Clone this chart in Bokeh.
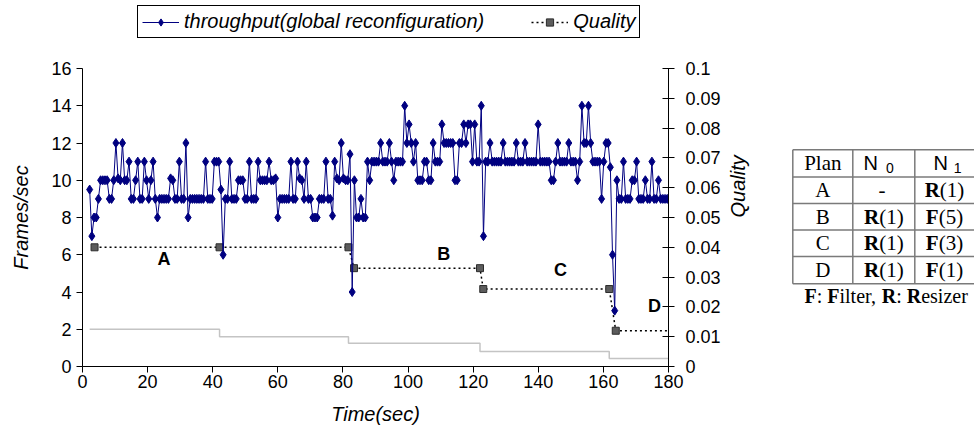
import math
from bokeh.plotting import figure
from bokeh.models import (Range1d, LinearAxis, FixedTicker, NumeralTickFormatter,
                          Legend, LegendItem)
from bokeh.layouts import row, column
from bokeh.embed import file_html
from bokeh.resources import INLINE
from bokeh.core.properties import value

# ---------------- data ----------------
first_sample = 2.2      # s, time of first throughput sample
sample_step = 0.672     # s, sampling interval

throughput = [
    9.5, 7, 8, 8, 9, 10, 10, 10, 10, 9, 9, 10, 12, 10.1, 10, 12, 10, 10, 11, 9,
    9, 10, 11, 9, 9, 11, 10, 9, 10, 11, 9, 8, 9, 9, 9, 9, 9, 10.1, 10, 9,
    9, 11, 9, 9, 12, 8, 9, 9, 9, 9, 9, 9, 9, 11, 9, 9, 9, 11, 11, 11, 9.5,
    6,
    9, 9, 11, 9, 9, 9, 10, 10, 10, 9, 9, 11, 9, 9, 9, 11, 10, 10, 10, 10, 11, 10, 10, 10.1, 8,
    9, 9, 9, 9, 9, 11, 9, 9, 11, 10.1, 10, 9, 11, 9, 9, 8, 8, 8, 9, 9, 9, 11, 9, 9, 8.1,
    11, 10.1, 10, 12, 10.1, 10, 10, 11.4,
    4,
    10, 8, 8, 9, 8, 8, 11, 10, 11, 11, 11, 11, 12, 11, 11, 11, 12, 11, 10, 11,
    11, 11, 11, 14, 12, 13, 12, 11, 12, 10, 10, 10, 11, 11, 10, 10, 12, 11, 11, 11,
    13, 12, 12, 12, 12, 12, 10, 10, 12, 12, 13, 12, 13, 13, 11, 13, 11, 11, 14,
    7,
    11, 11, 12, 11, 11, 11, 11, 11, 12, 11, 11, 11, 11, 11, 12, 11, 11, 11, 12, 11,
    11, 11, 11, 11, 13, 11, 11, 11, 11, 11, 10, 10, 11, 12, 11, 11, 11, 11, 12, 11,
    11, 11, 10, 11, 14, 12, 12, 14, 12, 11, 11, 11, 11, 9, 11, 12, 12, 10.7,
    6, 3,
    10, 9, 9, 11, 9, 9, 9, 10, 10, 11, 9, 9, 9, 10, 9, 9, 11, 9, 9, 10, 9, 9, 9, 9,
]
time = [round(first_sample + i * sample_step, 3) for i in range(len(throughput))]

quality_time = [3.7, 42.1, 81.7, 83.4, 122.1, 123.1, 161.8, 163.8, 180]
quality = [0.04, 0.04, 0.04, 0.033, 0.033, 0.026, 0.026, 0.012, 0.012]

base_time = [2.2, 42.1, 81.7, 122.1, 161.8, 180]
base_level = [2.0, 1.6, 1.25, 0.8, 0.43, 0.43]

plan_labels = ["A", "B", "C", "D"]
plan_label_x = [25, 111, 146.8, 175.7]
plan_label_y = [5.76, 6.03, 5.19, 3.25]

x_ticks = [0, 20, 40, 60, 80, 100, 120, 140, 160, 180]
y_ticks = [0, 2, 4, 6, 8, 10, 12, 14, 16]
q_ticks = [0, 0.01, 0.02, 0.03, 0.04, 0.05, 0.06, 0.07, 0.08, 0.09, 0.1]

table_plans = ["A", "B", "C", "D"]
table_n0 = ["-", "R(1)", "R(1)", "R(1)"]
table_n1 = ["R(1)", "F(5)", "F(3)", "F(1)"]
caption_parts = [("F", True), (":", False), (" ", False), ("F", True), ("ilter,", False),
                 (" ", False), ("R", True), (":", False), (" ", False), ("R", True),
                 ("esizer", False)]

# ---------------- layout constants ----------------
SANS = "Liberation Sans"
SERIF = "Liberation Serif"
NAVY = "#000080"
LEFT, RIGHT = 82, 100          # borders of chart (frame spans 586 px)
CHART_W = 768
LEG_H = 40
FRAME_TOP, FRAME_BOTTOM = 68, 366
PAGE_H = 437

# ---------------- main chart ----------------
p = figure(width=CHART_W, height=PAGE_H - LEG_H, x_range=Range1d(0, 180),
           y_range=Range1d(0, 16), output_backend="svg", toolbar_location=None,
           x_axis_location=None, y_axis_location=None,
           min_border_left=LEFT, min_border_right=RIGHT,
           min_border_top=FRAME_TOP - LEG_H, min_border_bottom=PAGE_H - FRAME_BOTTOM)
p.extra_y_ranges = {"q": Range1d(0, 0.1)}
p.outline_line_color = None
p.grid.visible = False


def style_axis(ax, tick_in, tick_out, standoff, label_standoff):
    ax.axis_line_color = "black"
    ax.major_tick_line_color = "black"
    ax.minor_tick_line_color = None
    ax.major_tick_in = tick_in
    ax.major_tick_out = tick_out
    ax.major_label_standoff = standoff
    ax.major_label_text_font = SANS
    ax.major_label_text_font_size = "18px"
    ax.major_label_text_color = "black"
    ax.axis_label_text_font = SANS
    ax.axis_label_text_font_size = "20px"
    ax.axis_label_text_font_style = "italic"
    ax.axis_label_text_color = "black"
    ax.axis_label_standoff = label_standoff


xaxis = LinearAxis(ticker=FixedTicker(ticks=x_ticks), axis_label="Time(sec)")
style_axis(xaxis, 0, 6, 2, 12)
p.add_layout(xaxis, "below")

yaxis = LinearAxis(ticker=FixedTicker(ticks=y_ticks), axis_label="Frames/sec")
style_axis(yaxis, 0, 6, 5, 16)
p.add_layout(yaxis, "left")

qaxis = LinearAxis(y_range_name="q", ticker=FixedTicker(ticks=q_ticks),
                   formatter=NumeralTickFormatter(format="0.[00]"), axis_label="Quality")
style_axis(qaxis, 6, 6, 11, 14)
try:
    qaxis.axis_label_orientation = math.pi / 2
except AttributeError:
    pass
p.add_layout(qaxis, "right")

STEP_STYLE = dict(line_color="#c4c4c4", line_width=1.5)
QLINE_STYLE = dict(line_color="black", line_dash="2 3", line_width=1.5)
QPT_STYLE = dict(marker="square", size=7, fill_color="#5c5c5c", line_color="#2c2c2c",
                 line_width=1)
TLINE_STYLE = dict(line_color=NAVY, line_width=1)
TPT_STYLE = dict(marker="diamond", size=9, fill_color=NAVY, line_color=NAVY)

p.step(base_time, base_level, mode="after", **STEP_STYLE)
p.line(quality_time, quality, y_range_name="q", **QLINE_STYLE)
p.scatter(quality_time[:-1], quality[:-1], y_range_name="q", **QPT_STYLE)
p.line(time, throughput, **TLINE_STYLE)
p.scatter(time, throughput, **TPT_STYLE)

p.text(x=plan_label_x, y=plan_label_y, text=plan_labels, text_font=value(SANS),
       text_font_style="bold", text_font_size="18px", text_align="center",
       text_baseline="middle", text_color="black")

# ---------------- legend strip (same series, ranges kept off-view) ----------------
lf = figure(width=CHART_W, height=LEG_H, x_range=Range1d(-1000, -999),
            y_range=Range1d(-1000, -999),
            output_backend="svg", toolbar_location=None,
            x_axis_location=None, y_axis_location=None,
            min_border_left=LEFT, min_border_right=RIGHT, min_border_top=0,
            min_border_bottom=0)
lf.outline_line_color = None
lf.grid.visible = False
l_tl = lf.line(time, throughput, **TLINE_STYLE)
l_tp = lf.scatter(time, throughput, **TPT_STYLE)
l_ql = lf.line(quality_time, quality, **QLINE_STYLE)
l_qp = lf.scatter(quality_time[:-1], quality[:-1], **QPT_STYLE)
legend = Legend(items=[LegendItem(label="throughput(global reconfiguration)",
                                  renderers=[l_tl, l_tp]),
                       LegendItem(label="Quality", renderers=[l_ql, l_qp])],
                location=(55, 2), orientation="horizontal",
                label_text_font=SANS, label_text_font_style="italic",
                label_text_font_size="20px", label_text_color="black",
                border_line_color="black", border_line_width=1, border_line_alpha=1,
                background_fill_color="white", background_fill_alpha=1,
                glyph_width=37, glyph_height=18, label_standoff=5, spacing=47,
                padding=4, margin=0)
lf.add_layout(legend, "center")

# ---------------- table ----------------
TABLE_W = 974 - CHART_W
t = figure(width=TABLE_W, height=PAGE_H, x_range=Range1d(0, TABLE_W),
           y_range=Range1d(FRAME_BOTTOM, FRAME_TOP),
           output_backend="svg", toolbar_location=None,
           x_axis_location=None, y_axis_location=None, min_border_left=0,
           min_border_right=0, min_border_top=FRAME_TOP,
           min_border_bottom=PAGE_H - FRAME_BOTTOM)
t.outline_line_color = None
t.grid.visible = False

col_edges = [24.3, 84.3, 146.3, 212.0]
row_edges = [149.3, 176.5, 202.9, 229.4, 256.0, 283.3]
col_mid = [(col_edges[i] + col_edges[i + 1]) / 2 for i in range(3)]
row_mid = [(row_edges[i] + row_edges[i + 1]) / 2 for i in range(5)]

t.segment(x0=[col_edges[0]] * len(row_edges), x1=[col_edges[-1]] * len(row_edges),
          y0=row_edges, y1=row_edges, line_color="#7a7a7a", line_width=1.5)
t.segment(x0=col_edges, x1=col_edges, y0=[row_edges[0]] * len(col_edges),
          y1=[row_edges[-1]] * len(col_edges), line_color="#7a7a7a", line_width=1.5)

FS = 21
CAP_FS = 20
em = {"R": 0.722, "F": 0.611, "(": 0.333, ")": 0.333, "1": 0.5, "3": 0.5, "5": 0.5,
      ":": 0.278, " ": 0.25, "i": 0.278, "l": 0.278, "t": 0.278, "e": 0.444,
      "r": 0.333, ",": 0.25, "s": 0.389, "z": 0.444}


def width(s, size):
    return sum(em.get(c, 0.5) for c in s) * size


# header
t.text(x=[col_mid[0]], y=[row_mid[0]], text=["Plan"], text_font=value(SERIF),
       text_font_size=f"{FS}px", text_align="center", text_baseline="middle",
       text_color="black")
t.text(x=[col_mid[1] - 13, col_mid[2] - 7], y=[row_mid[0]] * 2, text=["N", "N"],
       text_font=value(SANS), text_font_size="20px", text_align="center",
       text_baseline="middle", text_color="black")
t.text(x=[col_mid[1] + 6, col_mid[2] + 10], y=[row_mid[0] + 5] * 2, text=["0", "1"],
       text_font=value(SANS), text_font_size="14px", text_align="center",
       text_baseline="middle", text_color="black")

# body
t.text(x=[col_mid[0]] * 4, y=row_mid[1:], text=table_plans, text_font=value(SERIF),
       text_font_size=f"{FS}px", text_align="center", text_baseline="middle",
       text_color="black")

bold_x, bold_y, bold_t, rest_x, rest_y, rest_t = [], [], [], [], [], []
for r, cells in enumerate(zip(table_n0, table_n1)):
    for c, cell in enumerate(cells):
        cx, cy = col_mid[c + 1], row_mid[r + 1]
        if c == 1:
            cx = 176.0
        if cell == "-":
            rest_x.append(cx - width("-", FS) / 2)
            rest_y.append(cy)
            rest_t.append(cell)
            continue
        total = width(cell, FS)
        split = cx - total / 2 + width(cell[0], FS)
        bold_x.append(split)
        bold_y.append(cy)
        bold_t.append(cell[0])
        rest_x.append(split)
        rest_y.append(cy)
        rest_t.append(cell[1:])

t.text(x=bold_x, y=bold_y, text=bold_t, text_font=value(SERIF), text_font_style="bold",
       text_font_size=f"{FS}px", text_align="right", text_baseline="middle",
       text_color="black")
t.text(x=rest_x, y=rest_y, text=rest_t, text_font=value(SERIF),
       text_font_size=f"{FS}px", text_align="left", text_baseline="middle",
       text_color="black")

# caption
cap_y = 295
x = 36.0
cb_x, cb_t, cn_x, cn_t = [], [], [], []
for s, bold in caption_parts:
    if s.strip():
        (cb_x if bold else cn_x).append(x)
        (cb_t if bold else cn_t).append(s)
    x += width(s, CAP_FS)
t.text(x=cb_x, y=[cap_y] * len(cb_x), text=cb_t, text_font=value(SERIF),
       text_font_style="bold", text_font_size=f"{CAP_FS}px", text_align="left",
       text_baseline="middle", text_color="black")
t.text(x=cn_x, y=[cap_y] * len(cn_x), text=cn_t, text_font=value(SERIF),
       text_font_size=f"{CAP_FS}px", text_align="left", text_baseline="middle",
       text_color="black")

layout = row(column(lf, p), t)
open("out.html", "w").write(file_html(layout, INLINE))
